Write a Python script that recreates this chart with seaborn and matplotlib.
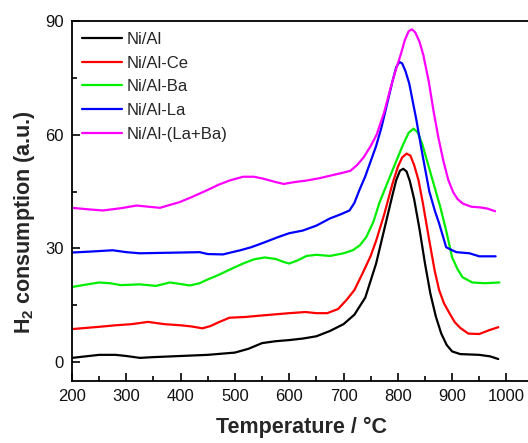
import matplotlib
matplotlib.use("Agg")
import matplotlib.pyplot as plt
from matplotlib.ticker import MultipleLocator
import numpy as np
import pandas as pd
import seaborn as sns

# ---- data ----
t_nial = [200, 225, 250, 280, 300, 325, 350, 400, 450, 500, 525, 550, 575, 600, 625, 650, 675, 700, 720, 740,
          760, 775, 790, 797, 804, 810, 816, 822, 830, 840, 850, 860, 870, 880, 890, 900, 915, 950, 970, 985]
v_nial = [1.1, 1.5, 1.9, 1.9, 1.6, 1.1, 1.3, 1.6, 1.9, 2.5, 3.5, 5.0, 5.5, 5.8, 6.2, 6.8, 8.2, 10.0, 12.5, 17.0,
          26.0, 35.0, 44.0, 48.0, 50.5, 51.0, 50.3, 47.8, 43.0, 35.0, 26.0, 18.0, 12.0, 7.5, 4.5, 2.8, 2.1, 1.9, 1.5, 0.8]

t_ce = [200, 225, 250, 280, 310, 340, 370, 400, 420, 440, 455, 470, 490, 520, 550, 575, 600, 630, 650, 670,
        690, 705, 720, 735, 750, 760, 775, 790, 800, 808, 816, 823, 830, 838, 846, 858, 868, 876, 885, 895,
        905, 915, 930, 950, 968, 985]
v_ce = [8.7, 9.0, 9.3, 9.7, 10.0, 10.6, 10.0, 9.7, 9.4, 8.9, 9.5, 10.5, 11.7, 11.9, 12.3, 12.6, 12.9, 13.2, 12.9, 12.9,
        14.0, 16.3, 19.0, 23.4, 28.0, 32.0, 39.0, 47.0, 51.5, 54.0, 55.0, 54.5, 52.0, 48.0, 42.0, 32.0, 24.0, 19.0, 15.5, 12.9,
        10.5, 9.0, 7.5, 7.4, 8.4, 9.2]

t_ba = [200, 220, 250, 270, 290, 325, 355, 380, 400, 417, 435, 450, 470, 495, 515, 535, 555, 575, 590, 600,
        615, 632, 650, 675, 700, 717, 730, 742, 755, 766, 780, 797, 810, 820, 829, 837, 845, 855, 864, 878,
        889, 900, 910, 919, 937, 960, 987]
v_ba = [19.8, 20.3, 21.0, 20.8, 20.3, 20.5, 20.1, 21.0, 20.6, 20.2, 20.8, 21.8, 23.0, 24.7, 26.0, 27.1, 27.6, 27.2, 26.4, 26.0,
        26.8, 28.0, 28.3, 28.0, 28.7, 29.5, 30.8, 33.0, 37.0, 42.0, 47.0, 53.0, 57.5, 60.5, 61.6, 60.5, 57.5, 52.5, 48.0, 41.0,
        34.7, 27.6, 24.5, 22.4, 21.0, 20.8, 21.0]

t_la = [200, 240, 275, 300, 325, 360, 400, 435, 450, 478, 495, 510, 530, 551, 580, 600, 625, 650, 675, 695,
        711, 720, 729, 740, 750, 760, 770, 780, 790, 797, 803, 808, 814, 821, 834, 845, 858, 868, 876, 889,
        900, 908, 932, 950, 980]
v_la = [28.9, 29.2, 29.5, 29.0, 28.7, 28.8, 28.9, 29.0, 28.5, 28.4, 29.0, 29.5, 30.3, 31.4, 33.0, 34.0, 34.7, 36.0, 37.9, 39.0,
        40.0, 42.0, 45.3, 49.0, 53.0, 57.0, 62.0, 68.0, 74.0, 77.8, 79.2, 78.8, 76.8, 73.5, 64.0, 55.0, 45.0, 40.0, 36.6, 30.3,
        29.5, 29.0, 28.7, 27.9, 27.9]

t_laba = [200, 230, 257, 290, 319, 340, 362, 398, 420, 448, 470, 490, 515, 535, 552, 575, 590, 610, 632, 655,
          676, 700, 713, 725, 737, 750, 761, 775, 786, 795, 805, 813, 820, 826, 832, 840, 847, 857, 866, 875,
          884, 893, 902, 910, 920, 935, 952, 965, 979]
v_laba = [40.7, 40.3, 40.0, 40.6, 41.3, 41.0, 40.7, 42.2, 43.5, 45.3, 46.8, 47.9, 48.9, 48.9, 48.4, 47.5, 47.0, 47.5, 47.9, 48.5,
          49.2, 50.0, 50.5, 52.0, 54.0, 57.0, 60.0, 66.0, 72.0, 76.5, 81.0, 85.0, 87.3, 87.8, 87.0, 84.5, 81.0, 74.0, 66.0, 59.0,
          53.0, 48.0, 44.8, 43.0, 41.8, 41.0, 40.8, 40.5, 39.8]

samples = ["Ni/Al", "Ni/Al-Ce", "Ni/Al-Ba", "Ni/Al-La", "Ni/Al-(La+Ba)"]
colors = ["#000000", "#ff0000", "#00ee00", "#0000ff", "#ff00ff"]
x_ticks = [200, 300, 400, 500, 600, 700, 800, 900, 1000]
y_ticks = [0, 30, 60, 90]

series = [(t_nial, v_nial), (t_ce, v_ce), (t_ba, v_ba), (t_la, v_la), (t_laba, v_laba)]
frames = []
for name, (t, v) in zip(samples, series):
    frames.append(pd.DataFrame({"T": t, "v": v, "sample": name}))
df = pd.concat(frames, ignore_index=True)

sns.set_theme(style="ticks")
plt.rcParams["font.family"] = ["Liberation Sans", "DejaVu Sans"]
plt.rcParams["mathtext.fontset"] = "custom"
plt.rcParams["mathtext.rm"] = "Liberation Sans"
plt.rcParams["mathtext.bf"] = "Liberation Sans:bold"

W, H = 528, 443
fig = plt.figure(figsize=(W / 100, H / 100), dpi=100)
left_px, right_px, top_px, bot_px = 72, 533.6, 21, 381
ax = fig.add_axes([left_px / W, 1 - bot_px / H, (right_px - left_px) / W, (bot_px - top_px) / H])

sns.lineplot(data=df, x="T", y="v", hue="sample", hue_order=samples,
             palette=colors, linewidth=1.6, ax=ax, sort=False, estimator=None)
for line in ax.get_lines():
    line.set_solid_joinstyle("round")

ax.set_xlim(200, 1050)
ax.set_ylim(-5, 90)
ax.set_xticks(x_ticks)
ax.set_yticks(y_ticks)
ax.xaxis.set_minor_locator(MultipleLocator(50))
ax.yaxis.set_minor_locator(MultipleLocator(15))
ax.tick_params(which="both", direction="in", color="black", width=1.2)
ax.tick_params(which="major", length=6, labelsize=12, labelcolor="#111111", pad=6)
ax.tick_params(which="minor", length=3.5)
for s in ax.spines.values():
    s.set_color("black")
    s.set_linewidth(1.3)

ax.set_xlabel("Temperature / °C", fontsize=15.5, fontweight="bold")
ax.xaxis.set_label_coords((302 - left_px) / (right_px - left_px), (bot_px - 417) / (bot_px - top_px))
ax.set_ylabel(r"H$_\mathbf{2}$ consumption (a.u.)", fontsize=15.5, fontweight="bold")
ax.yaxis.set_label_coords((37 - left_px) / (right_px - left_px), (bot_px - 222) / (bot_px - top_px))

leg = ax.legend(loc="upper left", bbox_to_anchor=((82 - left_px) / (right_px - left_px), (bot_px - 32) / (bot_px - top_px)),
                frameon=False, fontsize=12, handlelength=2.4, handletextpad=0.3,
                labelspacing=0.52, borderaxespad=0, borderpad=0)
for line in leg.get_lines():
    line.set_linewidth(1.6)

fig.savefig("out.png", dpi=100)
